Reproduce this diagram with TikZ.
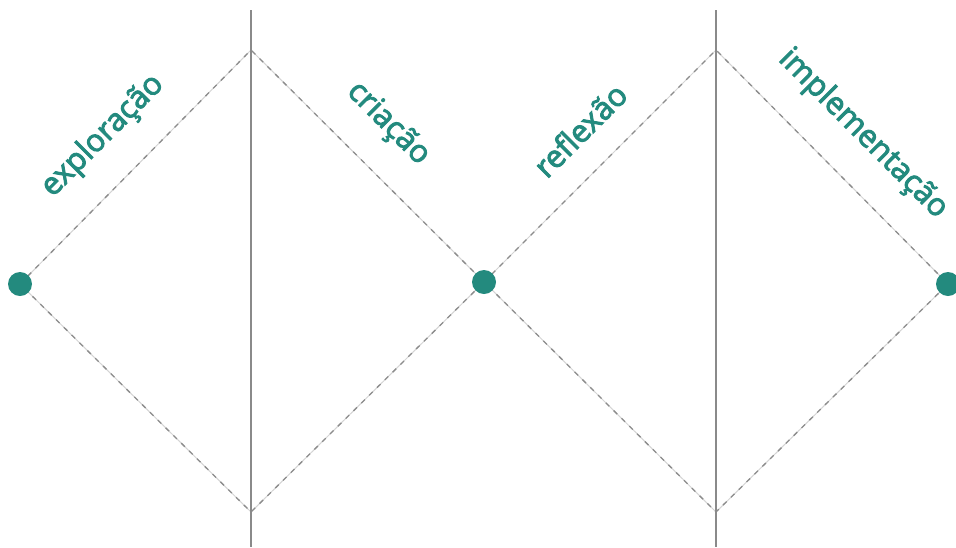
\documentclass[tikz,border=0pt]{standalone}
\usepackage{fontspec}
\setmainfont{Open Sans}
\newfontfamily\labfont[FakeBold=3]{Open Sans}
\definecolor{teal1}{HTML}{238A7E}
\definecolor{dashdark}{HTML}{8C8C8C}
\definecolor{dashlight}{HTML}{D4D4D4}
\definecolor{vline}{HTML}{8A8A8A}
\tikzset{
  dot/.style={circle,fill=teal1,minimum size=24pt,inner sep=0pt},
  lab/.style={text=teal1,font=\labfont\fontsize{31}{31}\selectfont,inner sep=0pt},
  edgelight/.style={draw=dashlight,line width=1pt},
  edgedark/.style={draw=dashdark,line width=1.3pt,dash pattern=on 5pt off 6pt},
  vert/.style={draw=vline,line width=1.3pt}
}
\begin{document}
\begin{tikzpicture}[x=1pt,y=-1pt]
\useasboundingbox (0,0) rectangle (956,547);
\clip (0,0) rectangle (956,547);
\coordinate (t1) at (251,50);
\coordinate (b1) at (251,512);
\coordinate (t2) at (716,50);
\coordinate (b2) at (716,512);
\coordinate (v1top) at (251,10);
\coordinate (v1bot) at (251,547);
\coordinate (v2top) at (716,10);
\coordinate (v2bot) at (716,547);
\coordinate (pa) at (20,284);
\coordinate (pb) at (484,282);
\coordinate (pc) at (948,284);
\foreach \s in {edgelight,edgedark}{
  \draw[\s] (pa) -- (t1) -- (pb) -- (b1) -- cycle;
  \draw[\s] (pb) -- (t2) -- (pc) -- (b2) -- cycle;
}
\draw[vert] (v1top) -- (v1bot);
\draw[vert] (v2top) -- (v2bot);
\node[dot] (a) at (pa) {};
\node[dot] (b) at (pb) {};
\node[dot] (c) at (pc) {};
\node[lab,rotate=45] (l1) at (103,136) {exploração};
\node[lab,rotate=-45] (l2) at (388,124) {criação};
\node[lab,rotate=45] (l3) at (580,130) {reflexão};
\node[lab,rotate=-45] (l4) at (863,134) {implementação};
\end{tikzpicture}
\end{document}
